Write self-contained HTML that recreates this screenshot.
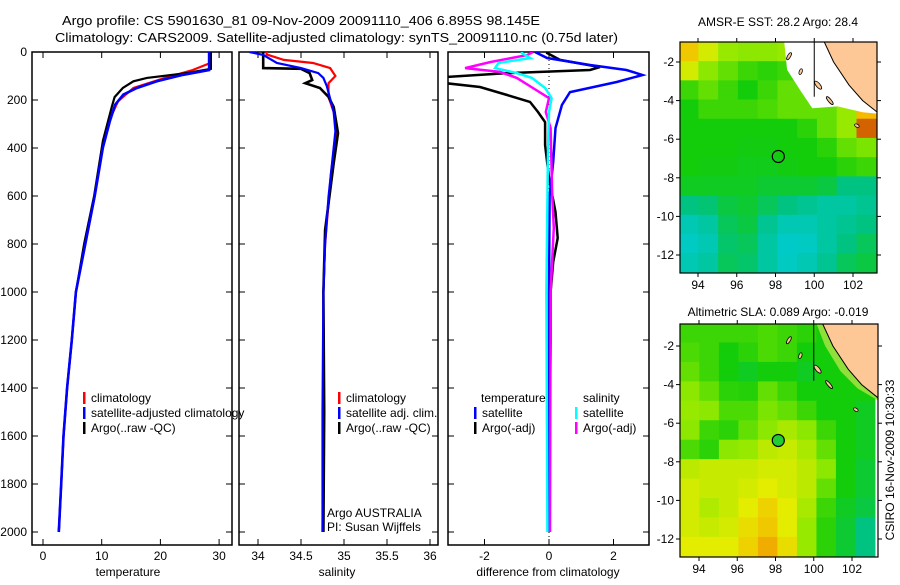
<!DOCTYPE html>
<html><head><meta charset="utf-8"><style>
body{margin:0;background:#fff;width:900px;height:580px;overflow:hidden}
svg{font-family:"Liberation Sans",sans-serif;font-size:12px}
</style></head><body>
<svg id="c" width="900" height="580" viewBox="0 0 900 580">
<defs>
<clipPath id="cp1"><rect x="32" y="52" width="200" height="493"/></clipPath>
<clipPath id="cp2"><rect x="239" y="52" width="199" height="493"/></clipPath>
<clipPath id="cp3"><rect x="448" y="52" width="201" height="493"/></clipPath>
<clipPath id="cpm1"><rect x="680" y="42" width="197" height="231"/></clipPath>
<clipPath id="cpm2"><rect x="680" y="324" width="198" height="233"/></clipPath>
</defs>
<text x="62" y="25" font-size="13" textLength="478" lengthAdjust="spacingAndGlyphs">Argo profile: CS 5901630_81 09-Nov-2009 20091110_406 6.895S 98.145E</text>
<text x="55" y="42" font-size="13" textLength="563" lengthAdjust="spacingAndGlyphs">Climatology: CARS2009. Satellite-adjusted climatology: synTS_20091110.nc (0.75d later)</text>
<text x="778" y="26" font-size="12" text-anchor="middle">AMSR-E SST: 28.2 Argo: 28.4</text>
<text x="778" y="316" font-size="12" text-anchor="middle">Altimetric SLA: 0.089 Argo: -0.019</text>
<text transform="translate(894,460) rotate(-90)" font-size="12" text-anchor="middle">CSIRO 16-Nov-2009 10:30:33</text>
<g id="g"></g>
</svg>
<script>
// ---- data ----
const depthTicks=[0,200,400,600,800,1000,1200,1400,1600,1800,2000];
const tempTicks=[0,10,20,30];
const salTicks=[34,34.5,35,35.5,36];
const salTickLabels=["34","34.5","35","35.5","36"];
const diffTicks=[-2,0,2];
const tDepthClim=[0,48,75,110,150,205,290,400,600,800,1000,1200,1400,1600,1800,2000];
const tClim=[28.3,28.3,25.5,20.5,15.4,12.8,11.2,10.1,8.8,7.2,5.6,4.9,4.1,3.5,3.1,2.7];
const tDepthSat=[0,75,95,122,150,177,219,288,398,600,800,1000,1200,1400,1600,1800,2000];
const tSat=[28.3,28.3,23.9,19.4,16,13.7,12.3,11.4,10.2,8.8,7.2,5.6,4.9,4.1,3.5,3.1,2.7];
const tDepthArgo=[0,70,88,108,122,150,188,230,370,600,800,1000,1200,1400,1600,1800,2000];
const tArgo=[28.6,28.6,24.5,17.7,15.4,13.6,12.2,11.7,10.2,8.7,7.0,5.6,4.9,4.1,3.5,3.1,2.7];
const sDepthClim=[0,10,33,46,67,100,130,187,250,330,500,800,1000,1500,2000];
const sClim=[34.1,34.1,34.3,34.64,34.84,34.9,34.82,34.82,34.88,34.92,34.85,34.78,34.76,34.76,34.75];
const sDepthSat=[0,12,46,67,88,108,142,250,330,604,800,1000,1500,2000];
const sSat=[33.9,34.06,34.22,34.5,34.7,34.76,34.8,34.88,34.9,34.82,34.78,34.76,34.75,34.75];
const sDepthArgo=[0,67,70,88,117,130,150,187,229,338,463,742,1000,1500,2000];
const sArgo=[34.06,34.06,34.5,34.6,34.63,34.55,34.72,34.82,34.88,34.93,34.88,34.78,34.76,34.77,34.76];
const dDepthT=[0,4,25,54,75,96,125,167,221,317,458,600,1000,2000];
const dTsat=[-0.3,-0.37,-0.06,1.27,2.4,2.9,2.1,0.65,0.4,0.2,0.13,0.02,0,0];
const dDepthTa=[0,4,33,63,75,88,104,130,146,179,208,250,292,388,525,667,775,875,1000,1200,1600,2000];
const dTargo=[-0.06,-0.06,0.34,1.58,1.27,-1.3,-3.2,-3.2,-2.14,-1.3,-0.59,-0.34,-0.12,-0.12,0,0.2,0.27,0.13,0.05,0.05,0.02,0.02];
const dDepthS=[0,4,25,46,67,88,108,150,192,250,400,1000,2000];
const dSsat=[-0.84,-0.84,-0.58,-1.57,-1.67,-1.0,-0.53,-0.12,0.08,0,-0.03,-0.08,-0.05];
const dDepthSa=[0,13,42,67,83,108,150,192,250,317,596,733,1000,2000];
const dSargo=[-0.5,-0.68,-1.83,-2.6,-1.52,-1.0,-0.5,0,-0.1,0.05,0.1,0.15,0.05,0.03];
const latTicks=[-2,-4,-6,-8,-10,-12];
const lonTicks=[94,96,98,100,102];
const sstGrid=[
[0.82,0.72,0.62,0.6,0.6,0.62,0.65,0.6,0.6,0.6],
[0.72,0.6,0.55,0.5,0.48,0.5,0.55,0.6,0.6,0.6],
[0.5,0.55,0.5,0.45,0.5,0.55,0.55,0.58,0.6,0.6],
[0.45,0.5,0.5,0.5,0.52,0.55,0.55,0.55,0.62,0.85],
[0.45,0.45,0.45,0.45,0.45,0.45,0.48,0.55,0.62,0.92],
[0.45,0.45,0.45,0.44,0.44,0.45,0.45,0.48,0.55,0.58],
[0.45,0.44,0.44,0.43,0.43,0.44,0.45,0.45,0.48,0.5],
[0.42,0.42,0.42,0.42,0.4,0.4,0.4,0.38,0.3,0.3],
[0.3,0.32,0.38,0.4,0.35,0.3,0.25,0.2,0.2,0.25],
[0.15,0.2,0.35,0.38,0.25,0.15,0.15,0.2,0.25,0.3],
[0.1,0.15,0.33,0.35,0.2,0.08,0.1,0.2,0.3,0.35],
[0.15,0.2,0.35,0.33,0.2,0.1,0.15,0.25,0.35,0.38]];
const slaGrid=[
[0.5,0.5,0.5,0.5,0.52,0.5,0.48,0.45,0.45,0.45],
[0.52,0.5,0.45,0.48,0.52,0.5,0.45,0.45,0.48,0.45],
[0.55,0.5,0.45,0.42,0.45,0.45,0.42,0.45,0.45,0.45],
[0.6,0.55,0.48,0.47,0.55,0.5,0.45,0.45,0.45,0.45],
[0.62,0.6,0.52,0.52,0.58,0.55,0.5,0.45,0.45,0.42],
[0.6,0.5,0.48,0.55,0.6,0.65,0.6,0.5,0.45,0.42],
[0.52,0.48,0.6,0.62,0.68,0.7,0.65,0.55,0.45,0.42],
[0.68,0.7,0.7,0.7,0.72,0.72,0.68,0.6,0.45,0.4],
[0.72,0.7,0.7,0.72,0.75,0.72,0.68,0.55,0.45,0.4],
[0.72,0.66,0.7,0.75,0.8,0.75,0.65,0.5,0.42,0.38],
[0.72,0.7,0.72,0.78,0.82,0.75,0.62,0.48,0.4,0.3],
[0.75,0.75,0.75,0.8,0.86,0.78,0.62,0.48,0.4,0.3]];
const argoLon=98.145, argoLat=-6.895;

const NS="http://www.w3.org/2000/svg";
const G=document.getElementById('g');
function mk(tag,at,parent){const e=document.createElementNS(NS,tag);for(const k in at)e.setAttribute(k,at[k]);(parent||G).appendChild(e);return e;}
const yD=d=>52+0.24*d;
const xT=v=>43+5.87*v;
const xS=v=>258+86*(v-34);
const xDf=v=>549+32.25*v;

function panel(x0,x1,name,ticks,labels,xf,xlabel,lx){
  const r=mk('rect',{x:x0,y:52,width:x1-x0,height:493,fill:'none',stroke:'#000','stroke-width':1.5});
  
  depthTicks.forEach(d=>{mk('line',{x1:x0,x2:x0+6,y1:yD(d),y2:yD(d),stroke:'#000'});mk('line',{x1:x1-6,x2:x1,y1:yD(d),y2:yD(d),stroke:'#000'});});
  ticks.forEach((t,i)=>{const x=xf(t);mk('line',{x1:x,x2:x,y1:52,y2:58,stroke:'#000'});mk('line',{x1:x,x2:x,y1:539,y2:545,stroke:'#000'});
    const tx=mk('text',{x:x,y:560,'text-anchor':'middle'});tx.textContent=labels[i];
    });
  const xl=mk('text',{x:lx,y:576,'text-anchor':'middle'});xl.textContent=xlabel;
  
}
function line(ds,vs,xf,color,clip,name,w){
  const pts=ds.map((d,i)=>xf(vs[i]).toFixed(1)+','+yD(d).toFixed(1)).join(' ');
  const p=mk('polyline',{points:pts,fill:'none',stroke:color,'stroke-width':w||2.2,'clip-path':'url(#'+clip+')'});
  
}
function legend(x,y,color,text,name){
  mk('rect',{x:x,y:y-10,width:2.5,height:12,fill:color});
  const t=mk('text',{x:x+8,y:y});t.textContent=text;
  
}
depthTicks.forEach(d=>{const t=mk('text',{x:27,y:yD(d)+4,'text-anchor':'end'});t.textContent=d;
  });
panel(32,232,'temperature-panel',tempTicks,tempTicks.map(String),xT,'temperature',128);
panel(239,438,'salinity-panel',salTicks,salTickLabels,xS,'salinity',337);
panel(448,649,'difference-panel',diffTicks,diffTicks.map(String),xDf,'difference from climatology',548);
mk('line',{x1:549,x2:549,y1:52,y2:545,stroke:'#000','stroke-dasharray':'1,3'});

line(tDepthClim,tClim,xT,'#f00','cp1','temp-climatology-line');
line(tDepthArgo,tArgo,xT,'#000','cp1','temp-argo-line');
line(tDepthSat,tSat,xT,'#00f','cp1','temp-satellite-line',2.6);
line(sDepthClim,sClim,xS,'#f00','cp2','sal-climatology-line');
line(sDepthArgo,sArgo,xS,'#000','cp2','sal-argo-line',2.6);
line(sDepthSat,sSat,xS,'#00f','cp2','sal-satellite-line');
line(dDepthTa,dTargo,xDf,'#000','cp3','diff-temp-argo-line',2.5);
line(dDepthT,dTsat,xDf,'#00f','cp3','diff-temp-satellite-line',2.5);
line(dDepthSa,dSargo,xDf,'#f0f','cp3','diff-sal-argo-line',2.5);
line(dDepthS,dSsat,xDf,'#0ff','cp3','diff-sal-satellite-line',2.5);

legend(83,402,'#f00','climatology','legend-climatology');
legend(83,417,'#00f','satellite-adjusted climatology','legend-satellite-adjusted');
legend(83,432,'#000','Argo(..raw -QC)','legend-argo');
legend(338,402,'#f00','climatology','legend-sal-climatology');
legend(338,417,'#00f','satellite adj. clim.','legend-sal-satellite');
legend(338,432,'#000','Argo(..raw -QC)','legend-sal-argo');
{const t=mk('text',{x:481,y:402});t.textContent='temperature';
 const u=mk('text',{x:583,y:402});u.textContent='salinity';}
legend(474,417,'#00f','satellite','legend-diff-temp-satellite');
legend(474,432,'#000','Argo(-adj)','legend-diff-temp-argo');
legend(575,417,'#0ff','satellite','legend-diff-sal-satellite');
legend(575,432,'#f0f','Argo(-adj)','legend-diff-sal-argo');
{const a=mk('text',{x:327,y:517});a.textContent='Argo AUSTRALIA';
 const b=mk('text',{x:327,y:531});b.textContent='PI: Susan Wijffels';}

// ---- maps ----
const stops=[[0,[0,205,225]],[0.3,[0,195,130]],[0.45,[20,205,10]],[0.6,[140,232,0]],[0.75,[228,236,0]],[0.85,[245,185,0]],[1,[170,0,0]]];
function cmap(v){for(let i=1;i<stops.length;i++){if(v<=stops[i][0]){const a=stops[i-1],b=stops[i],f=(v-a[0])/(b[0]-a[0]);
  return 'rgb('+a[1].map((c,k)=>Math.round(c+f*(b[1][k]-c))).join(',')+')';}}return 'rgb(170,0,0)';}
function map(grid,L,T,R,B,latTop,lat2,lat12,lon94,lon102,clip,name,filledMarker){
  const px=lon=>lon94+(lon-94)*(lon102-lon94)/8;
  const py=lat=>lat2+(lat+2)*(lat12-lat2)/(-10);
  const lon0=93,lat0=latTop,dl=1.02,dh=(latTop+12.9)/12;
  grid.forEach((row,r)=>row.forEach((v,c)=>{
    const x=px(lon0+c*dl),y=py(lat0-r*dh);
    const e=mk('rect',{x:x,y:y,width:px(lon0+(c+1)*dl)-x+0.5,height:py(lat0-(r+1)*dh)-y+0.5,fill:cmap(v),'clip-path':'url(#'+clip+')'});
    
  }));
  const P=a=>a.map(p=>px(p[0]).toFixed(1)+','+py(p[1]).toFixed(1)).join(' ');
  if(name==='sst-map'){mk('polygon',{points:P([[98.4,-0.5],[98.6,-2.4],[99.3,-3.5],[99.9,-4.4],[101.2,-4.3],[102.5,-4.6],[103.5,-4.7],[103.5,-0.5]]),fill:'#fff','clip-path':'url(#'+clip+')'});}
  else{mk('polygon',{points:P([[100.0,-0.5],[100.6,-2],[101.4,-3.3],[102.3,-4.2],[103.5,-4.9],[103.5,-0.5]]),fill:'#8fe03a','clip-path':'url(#'+clip+')'});}
  const land=mk('polygon',{points:P([[100.3,-0.5],[101,-2],[101.8,-3.2],[102.5,-4],[103.5,-4.8],[103.5,-0.5]]),fill:'#fdc896',stroke:'#000','stroke-width':1,'clip-path':'url(#'+clip+')'});
  
  mk('line',{x1:px(100),x2:px(100),y1:T,y2:py(-3.8),stroke:'#000'});
  [[98.7,-1.7,1.5,4,30],[99.3,-2.5,1.5,3,20],[100.2,-3.2,2,5,-40],[100.8,-4,1.5,5,-40],[102.2,-5.3,2.5,1.5,30]].forEach(p=>{
    const e=mk('ellipse',{cx:px(p[0]),cy:py(p[1]),rx:p[2],ry:p[3],fill:'#fdc896',stroke:'#000','stroke-width':0.8,transform:'rotate('+p[4]+' '+px(p[0])+' '+py(p[1])+')','clip-path':'url(#'+clip+')'});
    });
  const m=mk('circle',{cx:px(argoLon),cy:py(argoLat),r:6,fill:filledMarker?'#2c3':'none',stroke:'#000','stroke-width':1.2});
  
  const fr=mk('rect',{x:L,y:T,width:R-L,height:B-T,fill:'none',stroke:'#000','stroke-width':1.2});
  
  latTicks.forEach(l=>{const y=py(l);mk('line',{x1:L-4,x2:L,y1:y,y2:y,stroke:'#000'});mk('line',{x1:R,x2:R+4,y1:y,y2:y,stroke:'#000'});
    const t=mk('text',{x:L-6,y:y+4,'text-anchor':'end'});t.textContent=l;});
  lonTicks.forEach(l=>{const x=px(l);mk('line',{x1:x,x2:x,y1:B,y2:B+4,stroke:'#000'});mk('line',{x1:x,x2:x,y1:T-4,y2:T,stroke:'#000'});
    const t=mk('text',{x:x,y:B+16,'text-anchor':'middle'});t.textContent=l;});
}
map(sstGrid,680,42,877,273,-0.96,62,255,698,853,'cpm1','sst-map',false);
map(slaGrid,680,324,878,557,-0.81,346,539,699,852,'cpm2','sla-map',true);
</script>
</body></html>
